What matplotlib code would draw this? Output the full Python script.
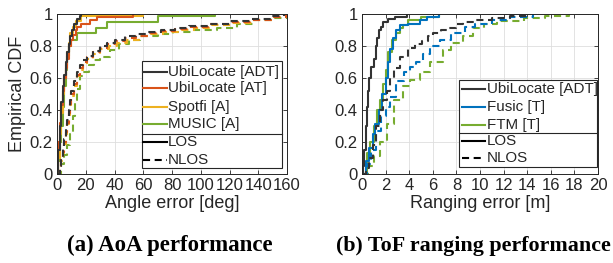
import matplotlib
matplotlib.use("Agg")
import matplotlib.pyplot as plt
from matplotlib.lines import Line2D
from matplotlib.patches import Rectangle

# ---------------- data ----------------
# (a) AoA error CDFs, LOS (solid)
aoa_ubi_adt_los_x = [0, 1, 2, 3, 4, 5, 6, 7, 8, 9, 10.5, 12, 14, 16, 17]
aoa_ubi_adt_los_y = [0, 0.15, 0.3, 0.45, 0.55, 0.62, 0.7, 0.76, 0.81, 0.86, 0.9, 0.94, 0.97, 0.99, 1.0]
aoa_ubi_at_los_x = [0, 1, 2, 3, 4, 5, 6, 7, 8.5, 10, 11, 13, 14, 17, 23, 28, 53]
aoa_ubi_at_los_y = [0, 0.2, 0.32, 0.43, 0.52, 0.6, 0.66, 0.72, 0.8, 0.84, 0.87, 0.9, 0.92, 0.94, 0.96, 0.98, 1.0]
aoa_spotfi_los_x = [0, 1, 2, 3, 4, 5, 6, 7, 8, 9, 11, 13, 17, 60]
aoa_spotfi_los_y = [0, 0.1, 0.25, 0.38, 0.5, 0.6, 0.68, 0.76, 0.82, 0.88, 0.92, 0.955, 0.99, 1.0]
aoa_music_los_x = [0, 1, 2, 3, 4, 5, 6, 7, 8, 10, 14, 27, 35, 70, 110]
aoa_music_los_y = [0, 0.08, 0.2, 0.3, 0.42, 0.55, 0.65, 0.74, 0.8, 0.84, 0.88, 0.91, 0.95, 0.985, 1.0]

# (a) AoA error CDFs, NLOS (dashed)
aoa_ubi_adt_nlos_x = [0, 2, 3, 4, 5, 6, 7, 8, 9, 10, 12, 14, 16, 18, 21, 25, 30, 35, 40, 47, 55, 63, 72, 82, 92, 105, 120, 135, 148, 158]
aoa_ubi_adt_nlos_y = [0, 0.05, 0.1, 0.16, 0.22, 0.28, 0.34, 0.4, 0.46, 0.52, 0.58, 0.64, 0.68, 0.71, 0.74, 0.77, 0.8, 0.82, 0.84, 0.86, 0.875, 0.885, 0.9, 0.91, 0.925, 0.94, 0.955, 0.97, 0.985, 1.0]
aoa_ubi_at_nlos_x = [0, 2, 3, 4, 5, 6, 7, 8, 9, 10, 12, 14, 16, 18, 21, 25, 30, 35, 40, 47, 55, 63, 72, 82, 92, 105, 120, 135, 150, 159]
aoa_ubi_at_nlos_y = [0, 0.04, 0.09, 0.14, 0.2, 0.26, 0.32, 0.38, 0.44, 0.5, 0.56, 0.62, 0.66, 0.7, 0.73, 0.76, 0.79, 0.81, 0.83, 0.85, 0.865, 0.88, 0.895, 0.905, 0.92, 0.935, 0.95, 0.965, 0.98, 1.0]
aoa_spotfi_nlos_x = [0, 2, 3, 4, 5, 6, 7, 8, 9, 10, 12, 14, 16, 18, 21, 25, 30, 36, 42, 49, 57, 65, 74, 84, 95, 108, 122, 137, 151, 160]
aoa_spotfi_nlos_y = [0, 0.04, 0.08, 0.13, 0.19, 0.25, 0.31, 0.37, 0.43, 0.49, 0.55, 0.61, 0.65, 0.69, 0.72, 0.75, 0.78, 0.8, 0.82, 0.84, 0.86, 0.875, 0.89, 0.9, 0.915, 0.93, 0.945, 0.96, 0.98, 1.0]
aoa_music_nlos_x = [0, 3, 5, 7, 9, 11, 12.5, 14, 16, 18, 22, 26, 30, 37, 43, 50, 58, 70, 81, 95, 111, 125, 136, 150, 160]
aoa_music_nlos_y = [0, 0.06, 0.12, 0.18, 0.25, 0.36, 0.46, 0.53, 0.61, 0.64, 0.68, 0.71, 0.73, 0.775, 0.81, 0.84, 0.86, 0.875, 0.89, 0.9, 0.91, 0.94, 0.96, 0.975, 1.0]

# (b) ToF ranging error CDFs, LOS (solid)
tof_ubi_los_x = [0, 0.1, 0.2, 0.3, 0.4, 0.5, 0.6, 0.8, 1.0, 1.2, 1.3, 1.4, 1.6, 1.8, 2.2, 2.8, 3.8]
tof_ubi_los_y = [0, 0.05, 0.15, 0.3, 0.42, 0.52, 0.6, 0.67, 0.72, 0.8, 0.85, 0.9, 0.92, 0.95, 0.97, 0.98, 1.0]
tof_fusic_los_x = [0, 0.3, 0.6, 0.9, 1.1, 1.4, 1.7, 2.0, 2.2, 2.4, 2.6, 2.9, 3.2, 3.9, 4.9, 5.5, 6.5]
tof_fusic_los_y = [0, 0.08, 0.16, 0.25, 0.31, 0.4, 0.5, 0.6, 0.7, 0.78, 0.85, 0.9, 0.93, 0.94, 0.96, 0.98, 1.0]
tof_ftm_los_x = [0, 0.4, 0.7, 1.0, 1.3, 1.5, 1.8, 2.0, 2.2, 2.5, 2.9, 3.2, 3.5, 3.9, 5.0, 6.5]
tof_ftm_los_y = [0, 0.13, 0.2, 0.3, 0.4, 0.46, 0.56, 0.65, 0.76, 0.84, 0.88, 0.91, 0.93, 0.96, 0.98, 1.0]

# (b) ToF ranging error CDFs, NLOS (dashed)
tof_ubi_nlos_x = [0, 0.3, 0.6, 0.9, 1.2, 1.5, 1.8, 2.1, 2.4, 2.7, 3.2, 3.9, 4.5, 5.1, 5.6, 6.0, 6.7, 7.2, 8.0, 8.6, 9.5, 11, 12.5, 14]
tof_ubi_nlos_y = [0, 0.04, 0.1, 0.18, 0.3, 0.4, 0.46, 0.52, 0.6, 0.66, 0.73, 0.785, 0.81, 0.83, 0.86, 0.88, 0.9, 0.91, 0.94, 0.95, 0.96, 0.975, 0.99, 1.0]
tof_fusic_nlos_x = [0, 0.4, 0.8, 1.2, 1.6, 2.0, 2.4, 2.9, 3.6, 4.1, 4.6, 5.2, 5.8, 6.6, 7.5, 8.7, 9.6, 11, 12.5, 14.5]
tof_fusic_nlos_y = [0, 0.06, 0.15, 0.27, 0.36, 0.42, 0.48, 0.58, 0.64, 0.67, 0.7, 0.75, 0.8, 0.84, 0.88, 0.92, 0.94, 0.965, 0.98, 1.0]
tof_ftm_nlos_x = [0, 0.5, 1.0, 1.5, 2.1, 2.7, 3.5, 4.1, 4.9, 5.8, 6.9, 7.5, 8.6, 9.4, 10.3, 11.4, 13.7, 15.5, 17.5]
tof_ftm_nlos_y = [0, 0.05, 0.11, 0.2, 0.31, 0.46, 0.55, 0.59, 0.64, 0.7, 0.775, 0.82, 0.86, 0.91, 0.935, 0.955, 0.975, 0.99, 1.0]

aoa_xticks = [0, 20, 40, 60, 80, 100, 120, 140, 160]
tof_xticks = [0, 2, 4, 6, 8, 10, 12, 14, 16, 18, 20]
yticks = [0, 0.2, 0.4, 0.6, 0.8, 1.0]
ytick_labels = ["0", "0.2", "0.4", "0.6", "0.8", "1"]

aoa_names = ["UbiLocate [ADT]", "UbiLocate [AT]", "Spotfi [A]", "MUSIC [A]"]
tof_names = ["UbiLocate [ADT]", "Fusic [T]", "FTM [T]"]

# ---------------- style ----------------
C_BLACK = "#333333"
C_ORANGE = "#D95319"
C_YELLOW = "#EDB120"
C_GREEN = "#77AC30"
C_BLUE = "#0072BD"
TXT = "#262626"
LW = 1.5
DASH = (0, (3.4, 2.2))

plt.rcParams["font.family"] = ["Liberation Sans", "DejaVu Sans"]

W, H = 613, 263
fig = plt.figure(figsize=(W / 100, H / 100), dpi=100)


def ax_at(x0, x1, ytop, ybot):
    return fig.add_axes([x0 / W, (H - ybot) / H, (x1 - x0) / W, (ybot - ytop) / H])


def style_axes(ax, xmax, xticks):
    ax.set_xlim(0, xmax)
    ax.set_ylim(0, 1)
    ax.set_xticks(xticks)
    ax.set_xticklabels([str(t) for t in xticks])
    ax.set_yticks(yticks)
    ax.set_yticklabels(ytick_labels)
    ax.grid(True, color="#dedede", linewidth=0.6)
    ax.set_axisbelow(True)
    ax.tick_params(direction="in", length=3, width=0.6, top=True, right=True,
                   labelsize=12, colors=TXT, pad=3)
    for s in ax.spines.values():
        s.set_color(TXT)
        s.set_linewidth(0.7)
        s.set_zorder(10)


def draw_legend(ax, box, divider, rows, xline, xtext, entries):
    x0, x1, y0, y1 = box
    ax.add_patch(Rectangle((x0, y0), x1 - x0, y1 - y0, transform=ax.transAxes,
                           facecolor="white", edgecolor=TXT, linewidth=0.8, zorder=20))
    ax.add_line(Line2D([x0, x1], [divider, divider], transform=ax.transAxes,
                       color=TXT, linewidth=0.8, zorder=21))
    for (label, color, ls), yy in zip(entries, rows):
        ax.add_line(Line2D(xline, [yy, yy], transform=ax.transAxes, color=color,
                           linewidth=LW, linestyle=ls, zorder=21))
        ax.text(xtext, yy, label, transform=ax.transAxes, fontsize=10.9,
                color=TXT, va="center", ha="left", zorder=22)


# ---------------- (a) AoA ----------------
ax1 = ax_at(57, 287, 14, 174)
style_axes(ax1, 160, aoa_xticks)
aoa_los = [(aoa_ubi_adt_los_x, aoa_ubi_adt_los_y, C_BLACK),
           (aoa_ubi_at_los_x, aoa_ubi_at_los_y, C_ORANGE),
           (aoa_spotfi_los_x, aoa_spotfi_los_y, C_YELLOW),
           (aoa_music_los_x, aoa_music_los_y, C_GREEN)]
aoa_nlos = [(aoa_ubi_adt_nlos_x, aoa_ubi_adt_nlos_y, C_BLACK),
            (aoa_ubi_at_nlos_x, aoa_ubi_at_nlos_y, C_ORANGE),
            (aoa_spotfi_nlos_x, aoa_spotfi_nlos_y, C_YELLOW),
            (aoa_music_nlos_x, aoa_music_nlos_y, C_GREEN)]
for x, y, c in aoa_los[::-1]:
    ax1.step(x, y, where="post", color=c, linewidth=LW, zorder=3)
for x, y, c in aoa_nlos[::-1]:
    ax1.step(x, y, where="post", color=c, linewidth=LW, linestyle=DASH, zorder=3)
ax1.set_xlabel("Angle error [deg]", fontsize=13, color=TXT, labelpad=1)
ax1.set_ylabel("Empirical CDF", fontsize=13, color=TXT, labelpad=3)

entries1 = [(n, c, "-") for n, (_, _, c) in zip(aoa_names, aoa_los)]
entries1 += [("LOS", "black", "-"), ("NLOS", "black", DASH)]
draw_legend(ax1, (0.3696, 0.978, 0.0375, 0.706), 0.25,
            [0.6375, 0.5356, 0.4206, 0.3106, 0.2019, 0.0875],
            [0.374, 0.478], 0.4826, entries1)

# ---------------- (b) ToF ----------------
ax2 = ax_at(362, 598, 14, 174)
style_axes(ax2, 20, tof_xticks)
tof_los = [(tof_ubi_los_x, tof_ubi_los_y, C_BLACK),
           (tof_fusic_los_x, tof_fusic_los_y, C_BLUE),
           (tof_ftm_los_x, tof_ftm_los_y, C_GREEN)]
tof_nlos = [(tof_ubi_nlos_x, tof_ubi_nlos_y, C_BLACK),
            (tof_fusic_nlos_x, tof_fusic_nlos_y, C_BLUE),
            (tof_ftm_nlos_x, tof_ftm_nlos_y, C_GREEN)]
for x, y, c in tof_los[::-1]:
    ax2.step(x, y, where="post", color=c, linewidth=LW, zorder=3)
for x, y, c in tof_nlos[::-1]:
    ax2.step(x, y, where="post", color=c, linewidth=LW, linestyle=DASH, zorder=3)
ax2.set_xlabel("Ranging error [m]", fontsize=13, color=TXT, labelpad=1)

entries2 = [(n, c, "-") for n, (_, _, c) in zip(tof_names, tof_los)]
entries2 += [("LOS", "black", "-"), ("NLOS", "black", DASH)]
draw_legend(ax2, (0.411, 0.9958, 0.04375, 0.5875), 0.256,
            [0.531, 0.419, 0.306, 0.206, 0.1],
            [0.4237, 0.5212], 0.5297, entries2)

# ---------------- captions ----------------
cap_font = ["Liberation Serif", "DejaVu Serif"]
fig.text(170 / W, (H - 251) / H, "(a) AoA performance", ha="center", va="baseline",
         fontsize=16.5, fontweight="bold", family=cap_font, color="black")
fig.text(473 / W, (H - 251) / H, "(b) ToF ranging performance", ha="center", va="baseline",
         fontsize=15.8, fontweight="bold", family=cap_font, color="black")

fig.savefig("out.png", dpi=100)
